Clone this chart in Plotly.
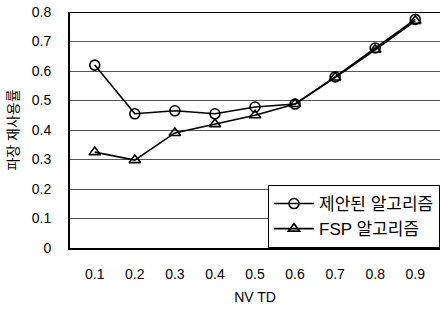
import plotly.graph_objects as go

categories = ["0.1", "0.2", "0.3", "0.4", "0.5", "0.6", "0.7", "0.8", "0.9"]
proposed = [0.62, 0.455, 0.465, 0.455, 0.478, 0.488, 0.58, 0.678, 0.775]
fsp = [0.325, 0.298, 0.39, 0.42, 0.45, 0.488, 0.578, 0.672, 0.77]
y_ticks = [0, 0.1, 0.2, 0.3, 0.4, 0.5, 0.6, 0.7, 0.8]
y_tick_labels = ["0", "0.1", "0.2", "0.3", "0.4", "0.5", "0.6", "0.7", "0.8"]

FONT = "Liberation Sans, Noto Sans CJK KR, sans-serif"

fig = go.Figure()
fig.add_trace(go.Scatter(
    x=categories, y=proposed, name="제안된 알고리즘", mode="lines+markers",
    line=dict(color="black", width=1.6),
    marker=dict(symbol="circle-open", size=10, color="black", line=dict(width=1.6)),
))
fig.add_trace(go.Scatter(
    x=categories, y=fsp, name="FSP 알고리즘", mode="lines+markers",
    line=dict(color="black", width=1.6),
    marker=dict(symbol="triangle-up-open", size=10, color="black", line=dict(width=1.6)),
))

fig.update_layout(
    width=440, height=311,
    margin=dict(l=70, r=0, t=12, b=63),
    paper_bgcolor="white", plot_bgcolor="white",
    font=dict(family=FONT, size=13, color="black"),
    showlegend=True,
    legend=dict(
        x=1, y=0, xanchor="right", yanchor="bottom",
        bgcolor="white", bordercolor="black", borderwidth=1,
        font=dict(family=FONT, size=17, color="black"),
        tracegroupgap=2, itemwidth=40,
    ),
    xaxis=dict(
        type="category", showgrid=False, zeroline=False,
        showline=True, linecolor="black", linewidth=1.5,
        ticks="", tickfont=dict(size=14), ticklabelstandoff=12,
        title=dict(text="NV TD", font=dict(size=14), standoff=12),
    ),
    yaxis=dict(
        range=[0, 0.8], tickvals=y_ticks, ticktext=y_tick_labels,
        showgrid=True, gridcolor="#555555", gridwidth=1,
        zeroline=False, showline=True, linecolor="black", linewidth=2,
        mirror=False, ticks="", tickfont=dict(size=14), ticklabelstandoff=14,
        title=dict(text="파장 재사용률", font=dict(size=14), standoff=10),
    ),
)
fig.add_shape(type="line", xref="paper", yref="y", x0=0, x1=1, y0=0.8, y1=0.8,
              line=dict(color="black", width=2))

fig.write_html("out.html", config={"displayModeBar": False},
               post_script="document.body.style.margin='0';")
